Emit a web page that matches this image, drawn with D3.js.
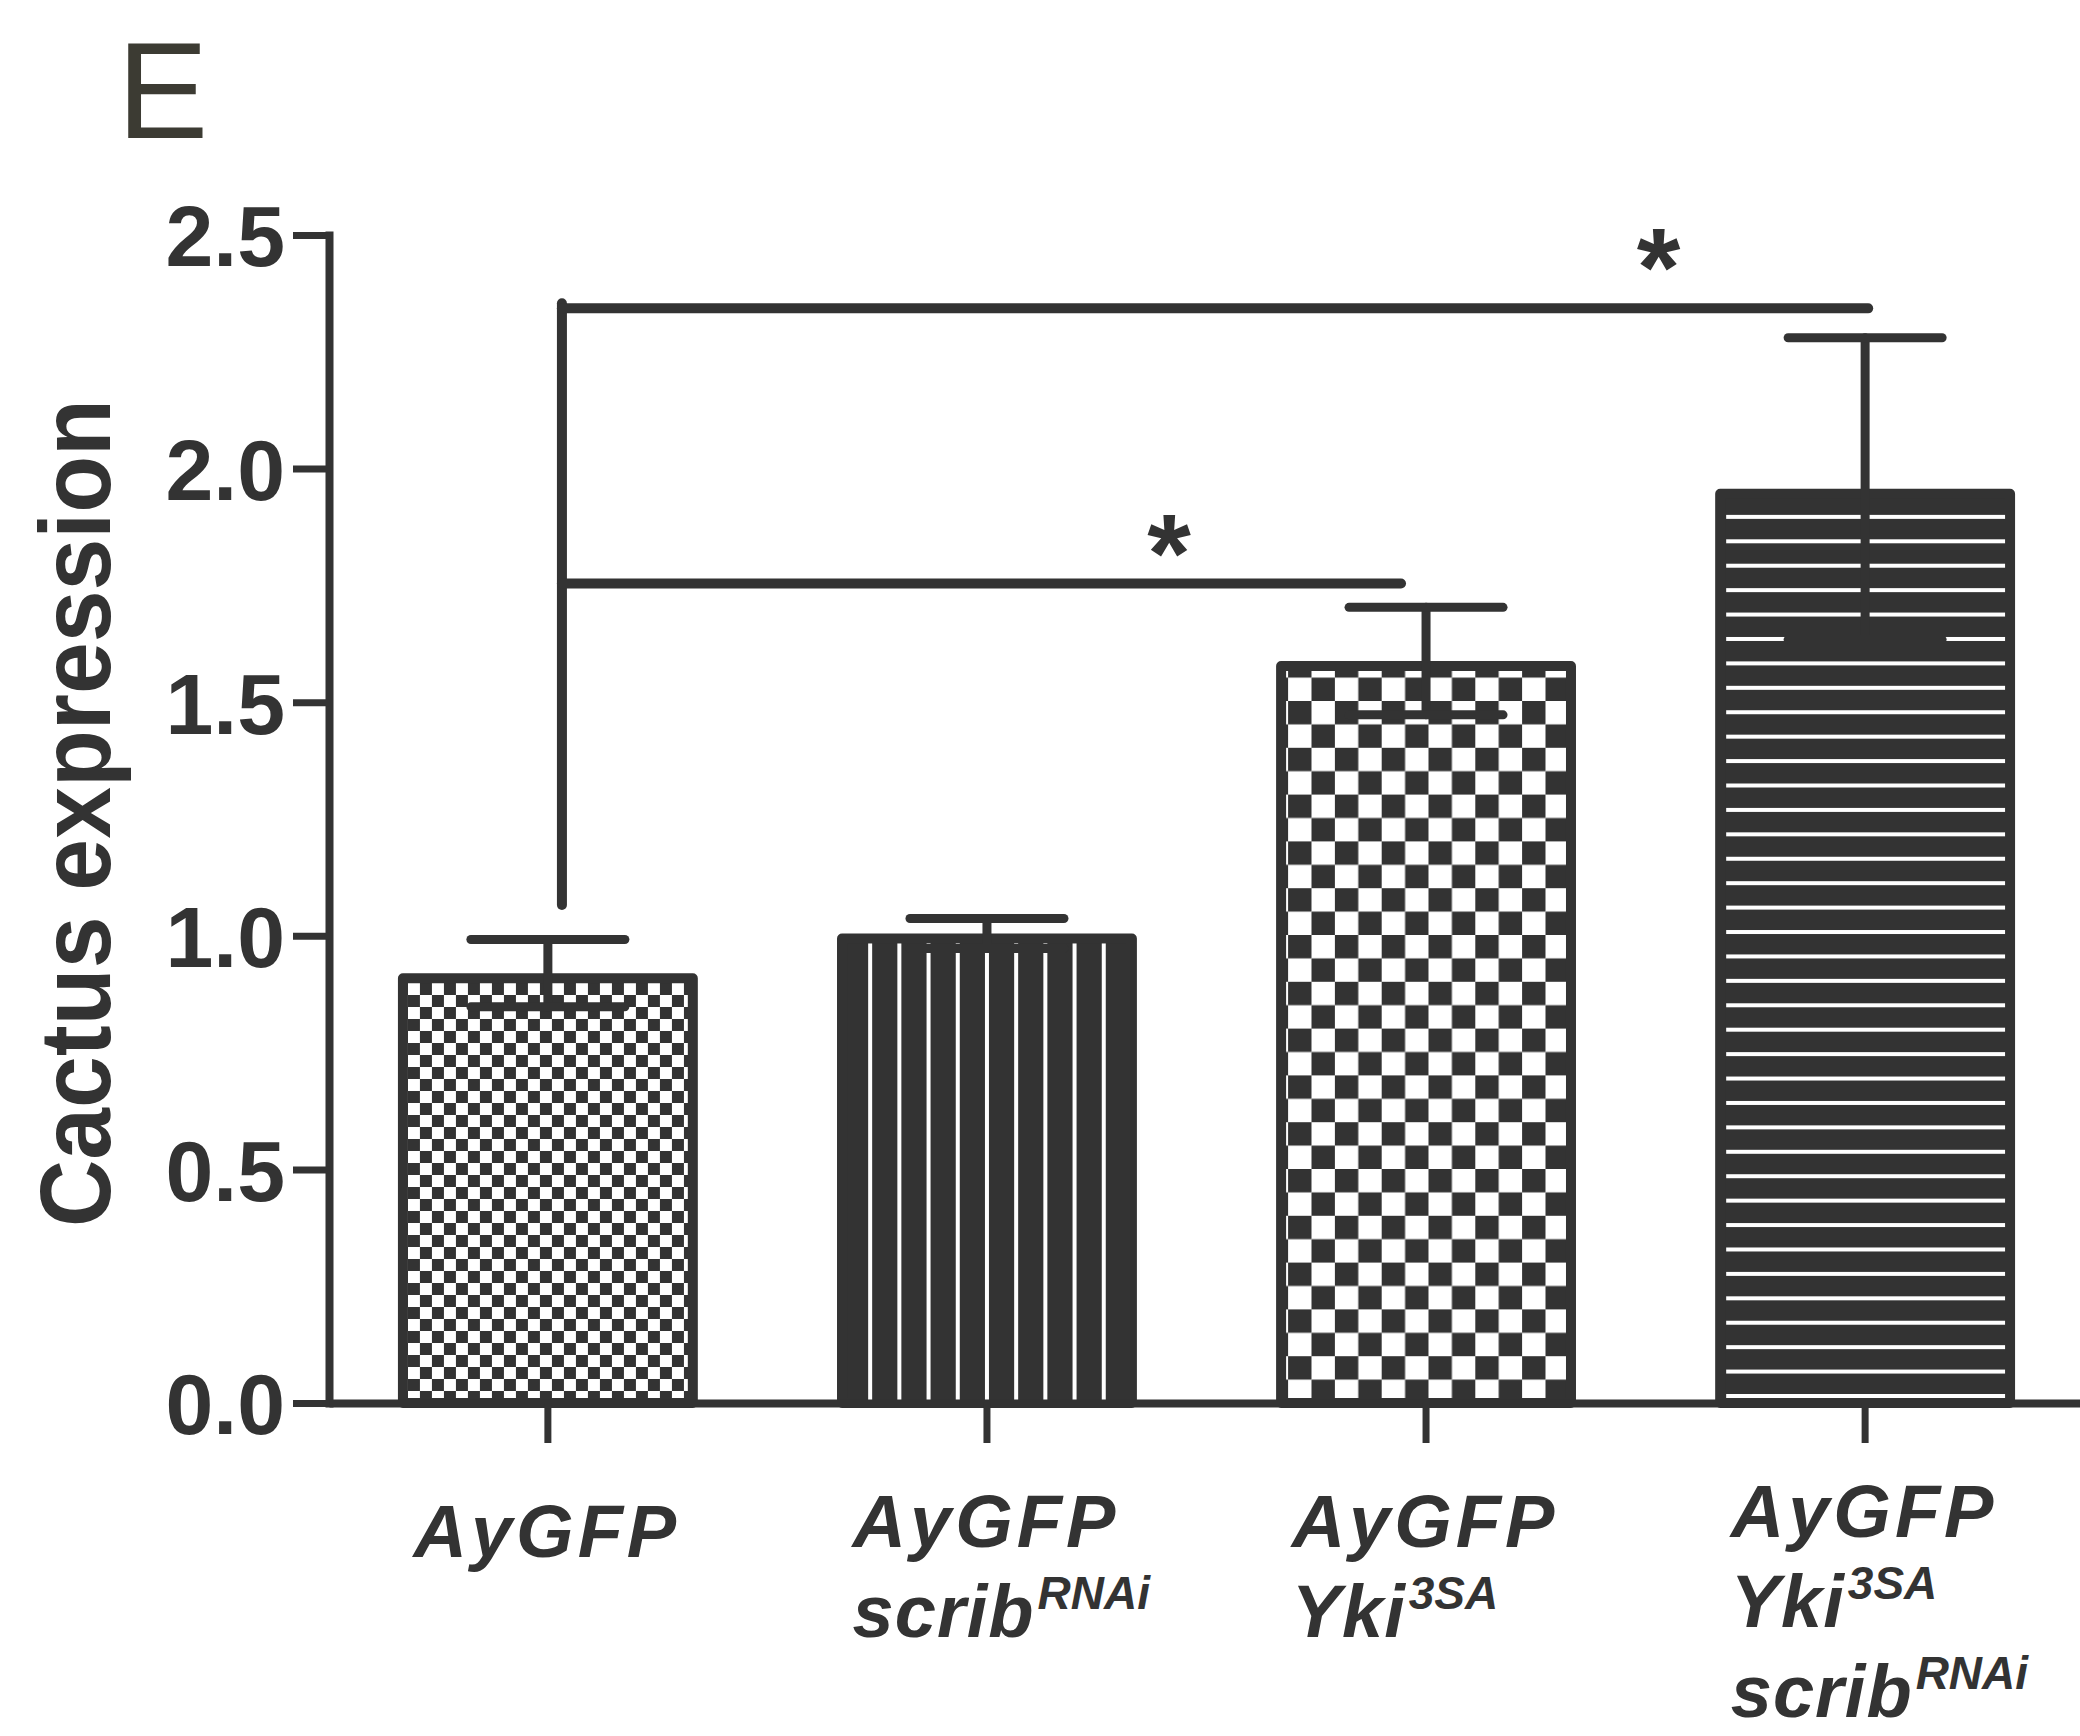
<!DOCTYPE html>
<html>
<head>
<meta charset="utf-8">
<script src="https://cdnjs.cloudflare.com/ajax/libs/d3/7.8.5/d3.min.js"></script>
<style>
body { margin: 0; background: #fff; }
svg { display: block; }
</style>
</head>
<body>
<script>
// values
var categories = ["AyGFP", "AyGFP scribRNAi", "AyGFP Yki3SA", "AyGFP Yki3SA scribRNAi"];
var means = [0.92, 1.005, 1.588, 1.957];
var sems = [0.072, 0.032, 0.115, 0.323];
var fills = ["fineCheck", "vLines", "bigCheck", "hLines"];
var labelLines = [
    [["AyGFP", ""]],
    [["AyGFP", ""], ["scrib", "RNAi"]],
    [["AyGFP", ""], ["Yki", "3SA"]],
    [["AyGFP", ""], ["Yki", "3SA"], ["scrib", "RNAi"]]
];
var yTicks = [0, 0.5, 1.0, 1.5, 2.0, 2.5];
// significance brackets, x given as category index, y as value
var brackets = [
    {from: 0.032, to: 1.943, level: 1.754, starX: 1.415, starY: 1.877, mark: "*"},
    {from: 0.032, to: 3.007, level: 2.343, starX: 2.53, starY: 2.489, mark: "*"}
];
var bracketBase = 1.066;

var width = 2080, height = 1736;
var dark = "#333333";

var svg = d3.select("body").append("svg")
    .attr("width", width).attr("height", height);
var defs = svg.append("defs");

var y = d3.scaleLinear().domain([0, 2.5]).range([1403, 235]);
var x = d3.scaleBand().domain(categories).range([329, 2084])
    .paddingInner(0.317).paddingOuter(0.157);
var xc = function(i) { return x(categories[i]) + x.bandwidth() / 2; };
var xi = d3.scaleLinear().domain([0, 3]).range([xc(0), xc(3)]);
var bw = x.bandwidth();

// panel letter
svg.append("text").attr("x", 117).attr("y", 138)
    .style("font-family", "Liberation Sans, Arial, sans-serif")
    .style("font-size", "137px").style("fill", "#3c3b33").text("E");

// y axis
var yAxis = d3.axisLeft(y).tickValues(yTicks).tickFormat(d3.format(".1f"))
    .tickSize(36).tickSizeOuter(0).tickPadding(8);
var gy = svg.append("g").attr("transform", "translate(329,0)").call(yAxis);
gy.select(".domain").attr("stroke", dark).attr("stroke-width", 8).attr("stroke-linecap", "square");
gy.selectAll(".tick line").attr("stroke", dark).attr("stroke-width", 7);
gy.selectAll(".tick text").attr("fill", dark).attr("dy", "0.36em")
    .style("font-family", "Liberation Sans, Arial, sans-serif")
    .style("font-weight", "bold").style("font-size", "86px");

svg.append("text")
    .attr("transform", "translate(110,813) rotate(-90)")
    .attr("text-anchor", "middle")
    .attr("textLength", 828).attr("lengthAdjust", "spacingAndGlyphs")
    .style("font-family", "Liberation Sans, Arial, sans-serif")
    .style("font-weight", "bold").style("font-size", "100px").style("fill", dark)
    .text("Cactus expression");

// patterns
function checker(id, cell, ox, oy) {
    var p = defs.append("pattern").attr("id", id).attr("patternUnits", "userSpaceOnUse")
        .attr("width", cell * 2).attr("height", cell * 2).attr("x", ox).attr("y", oy);
    p.append("rect").attr("width", cell * 2).attr("height", cell * 2).attr("fill", "#fff");
    p.append("rect").attr("width", cell).attr("height", cell).attr("fill", dark);
    p.append("rect").attr("x", cell).attr("y", cell).attr("width", cell).attr("height", cell).attr("fill", dark);
}
checker("fineCheck", 12, x(categories[0]) + 10, y(0));
checker("bigCheck", 23.4, x(categories[2]) + 12, y(0));

// bars
var bars = svg.append("g");
categories.forEach(function(c, i) {
    var bx = x(c), top = y(means[i]), g = bars.append("g");
    var solid = fills[i] === "vLines" || fills[i] === "hLines";
    g.append("rect")
        .attr("x", bx + 5).attr("y", top + 5)
        .attr("width", bw - 10).attr("height", y(0) - top - 5)
        .attr("fill", solid ? dark : "url(#" + fills[i] + ")")
        .attr("stroke", dark).attr("stroke-width", 10).attr("stroke-linejoin", "round");
    if (fills[i] === "vLines") {
        d3.range(-4, 5).forEach(function(k) {
            g.append("rect").attr("x", xc(i) + k * 29.2 - 2).attr("y", top + 10)
                .attr("width", 4).attr("height", y(0) - top - 12).attr("fill", "#fff");
        });
    }
    if (fills[i] === "hLines") {
        for (var ly = y(0) - 7; ly > top + 25; ly -= 24.42) {
            g.append("rect").attr("x", bx + 11).attr("y", ly - 2)
                .attr("width", bw - 21).attr("height", 4).attr("fill", "#fff");
        }
    }
});

// x axis
var xAxis = d3.axisBottom(x).tickSize(40).tickSizeOuter(0).tickFormat("");
var gx = svg.append("g").attr("transform", "translate(0," + y(0) + ")").call(xAxis);
gx.select(".domain").attr("stroke", dark).attr("stroke-width", 8);
gx.selectAll(".tick line").attr("stroke", dark).attr("stroke-width", 7);

// error bars
var err = svg.append("g").attr("stroke", dark).attr("stroke-width", 9).attr("stroke-linecap", "round");
categories.forEach(function(c, i) {
    var cx = xc(i), hi = y(means[i] + sems[i]), lo = y(means[i] - sems[i]);
    err.append("line").attr("x1", cx).attr("x2", cx).attr("y1", hi).attr("y2", lo);
    [hi, lo].forEach(function(v) {
        err.append("line").attr("x1", cx - 77).attr("x2", cx + 77).attr("y1", v).attr("y2", v);
    });
});

// significance brackets
var br = svg.append("g").attr("stroke", dark).attr("stroke-width", 10).attr("stroke-linecap", "round");
br.append("line").attr("x1", xi(brackets[0].from)).attr("x2", xi(brackets[0].from))
    .attr("y1", y(bracketBase)).attr("y2", y(d3.max(brackets, function(b) { return b.level; })) - 5);
brackets.forEach(function(b) {
    br.append("line").attr("x1", xi(b.from)).attr("x2", xi(b.to))
        .attr("y1", y(b.level)).attr("y2", y(b.level));
    var t = svg.append("text").attr("x", 0).attr("y", 0)
        .style("font-family", "Liberation Sans, Arial, sans-serif")
        .style("font-weight", "bold").style("font-size", "112px").style("fill", dark)
        .text(b.mark);
    var bb = t.node().getBBox();
    t.attr("x", xi(b.starX) - bb.width / 2)
     .attr("y", y(b.starY) - (bb.y + bb.height * 0.28));
});

// category labels
categories.forEach(function(c, i) {
    var lines = labelLines[i];
    var first = 1557 - 10 * (lines.length - 1);
    var texts = lines.map(function(l, j) {
        var t = svg.append("text").attr("y", first + j * 90)
            .style("font-family", "Liberation Sans, Arial, sans-serif")
            .style("font-weight", "bold").style("font-style", "italic").style("fill", dark);
        t.append("tspan").style("font-size", "74px")
            .style("letter-spacing", l[0] === "AyGFP" ? "4px" : "1px").text(l[0]);
        if (l[1]) {
            t.append("tspan").attr("dx", 3).attr("dy", -28).style("font-size", "46px").text(l[1]);
        }
        return t;
    });
    var w = texts[0].node().getBBox().width;
    texts.forEach(function(t) { t.attr("x", xc(i) - w / 2); });
});
</script>
</body>
</html>
